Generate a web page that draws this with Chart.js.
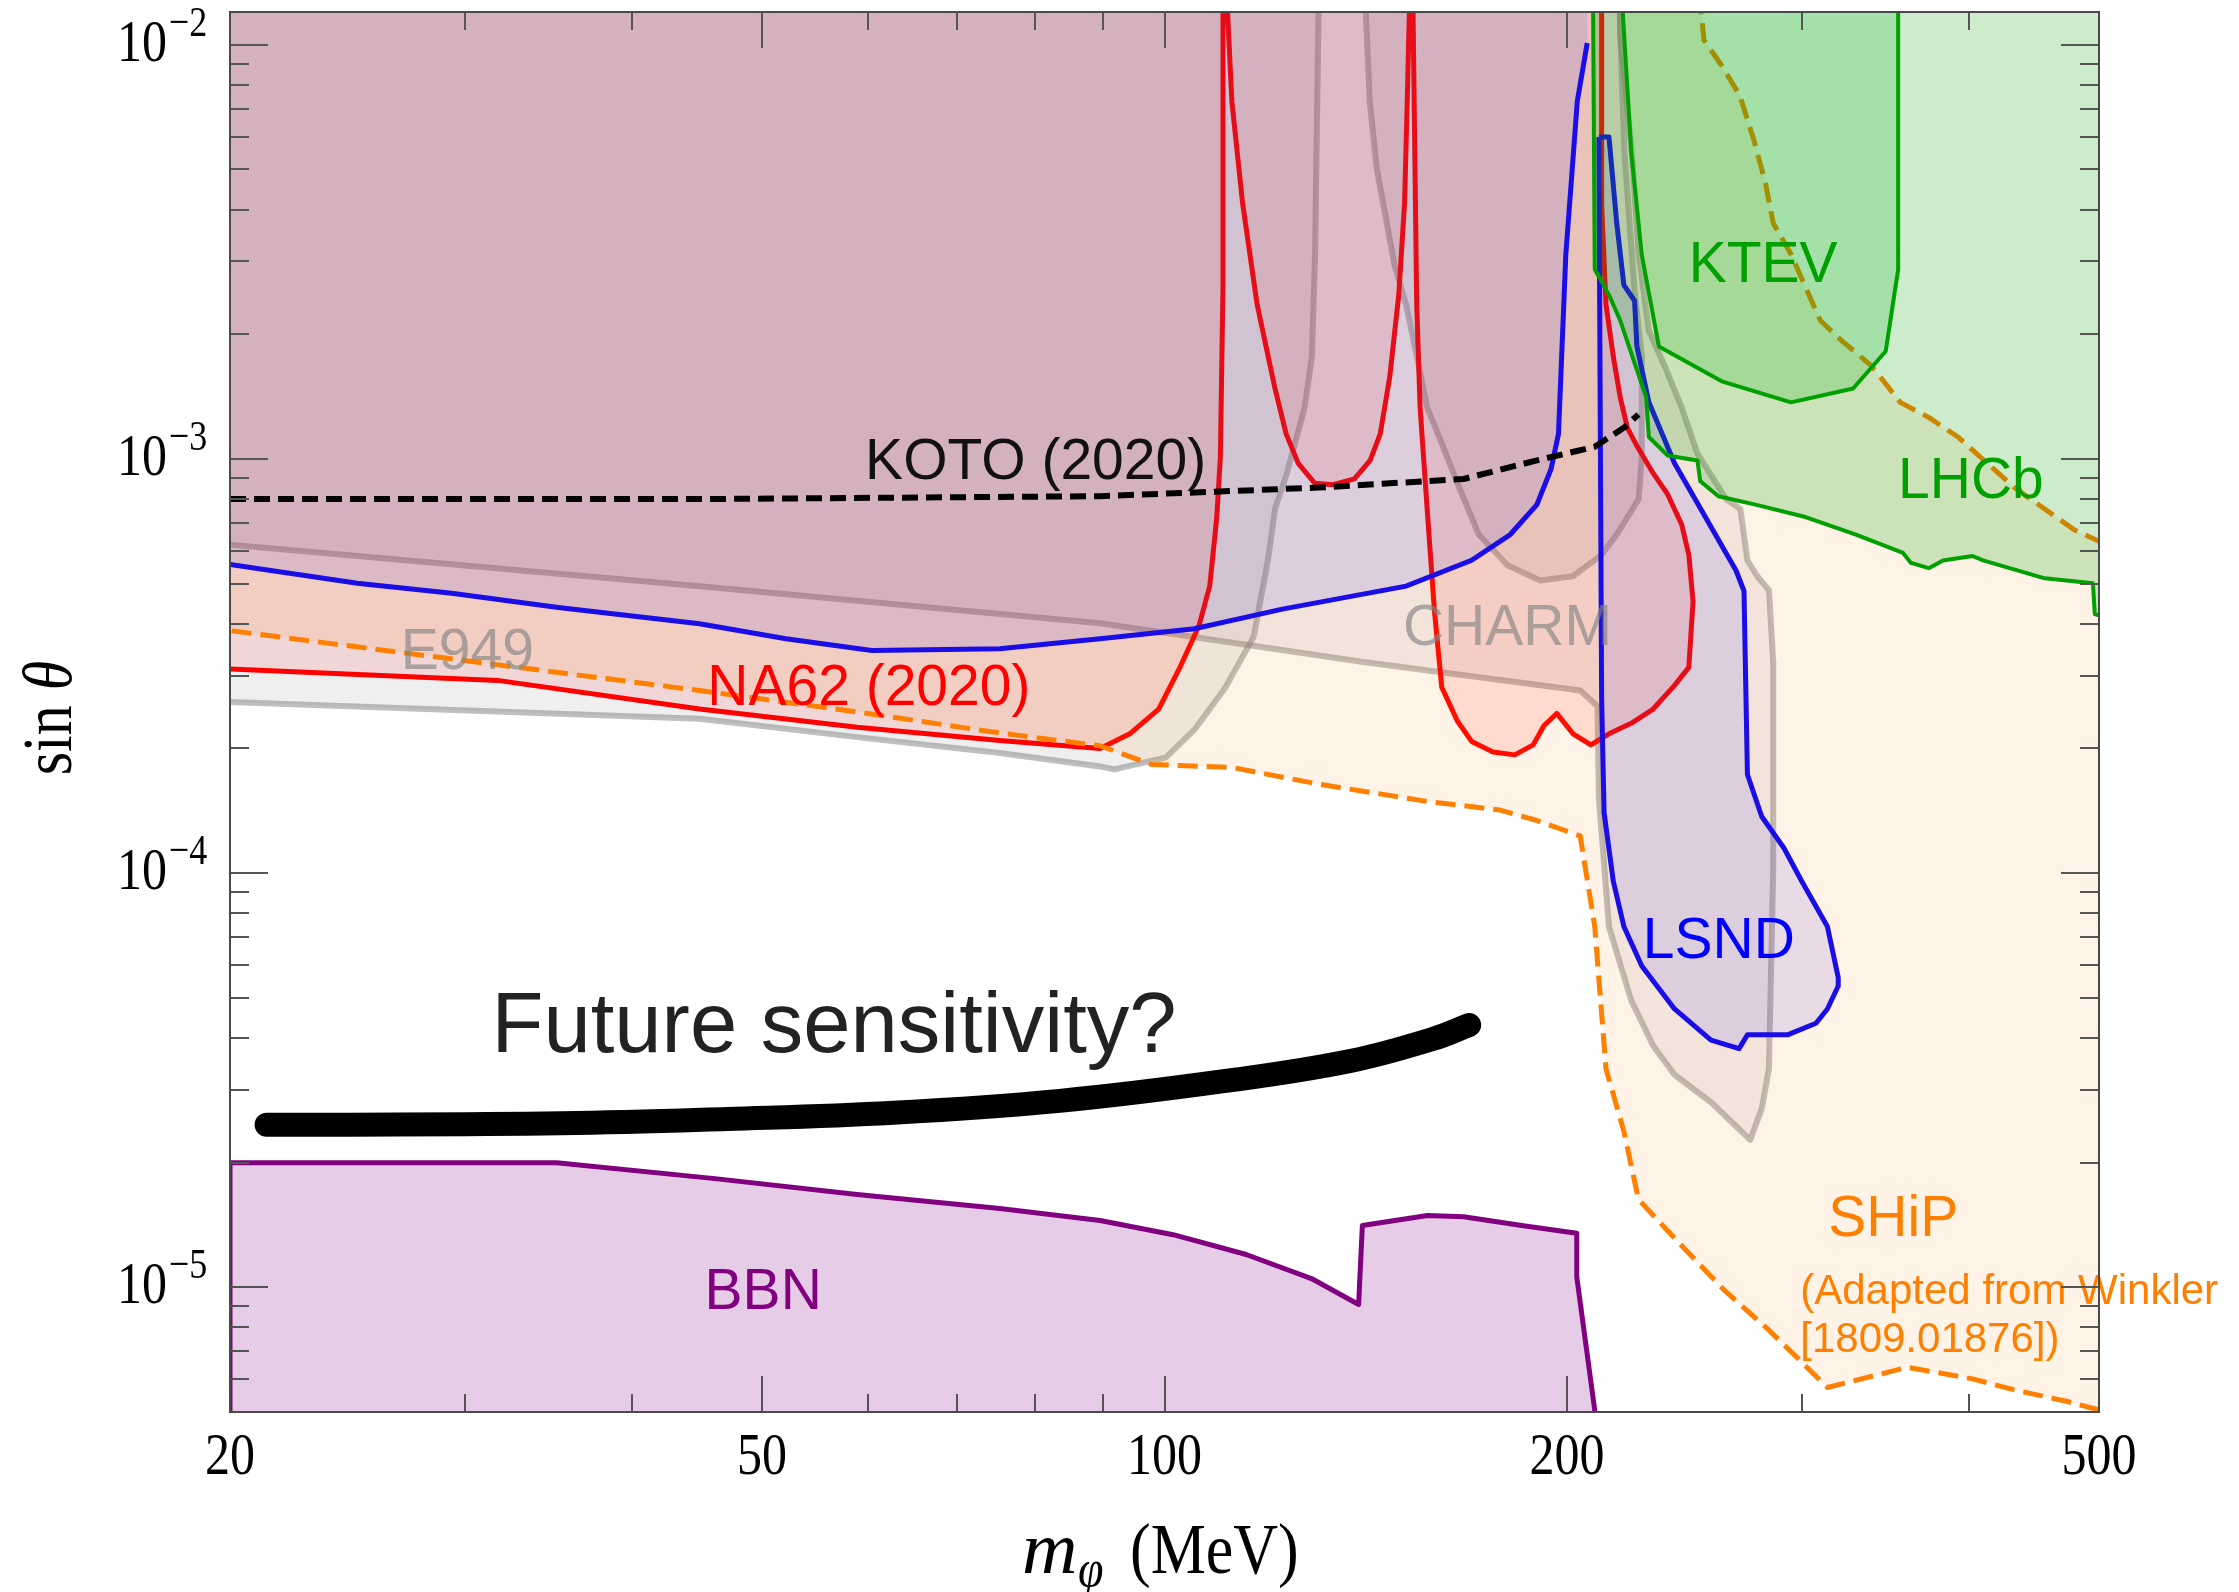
<!DOCTYPE html>
<html>
<head>
<meta charset="utf-8">
<script src="https://cdn.jsdelivr.net/npm/chart.js@4.4.1/dist/chart.umd.min.js"></script>
<style>
   html, body { margin: 0; padding: 0; background: #fff; }
   #wrap { width: 2239px; height: 1592px; }
</style>
</head>
<body>
<div id="wrap"><canvas id="chart" width="2239" height="1592"></canvas></div>
<script>

// axes
const massRange = [20, 500];
const sinRange = [5e-6, 0.012];
const massTicks = [20, 30, 40, 50, 60, 70, 80, 90, 100, 200, 300, 400, 500];
const massLabels = [20, 50, 100, 200, 500];
const sinDecades = [-5, -4, -3, -2];

// contours as [m (MeV), sin theta]; points above / beside the frame only close the fill
const e949 = [[15,0.05],[15,2.59e-4],
   [20,2.59e-4],[44.9,2.36e-4],[58.9,2.13e-4],[75.3,1.95e-4],[89.5,1.81e-4],[91.7,1.78e-4],[100.2,1.9e-4],
   [105.3,2.22e-4],[111,2.8e-4],[116.6,3.72e-4],[119.5,5.7e-4],[121,7.6e-4],[123.3,9.1e-4],[127.3,1.33e-3],
   [128.9,1.77e-3],[129.6,3.1e-3],[130.4,0.0122],[130.4,0.05],[141.4,0.05],[141.4,0.0122],[142.4,7.3e-3],
   [144.1,5.05e-3],[148.6,2.94e-3],[151.6,2.36e-3],[154.4,1.77e-3],[157.2,1.33e-3],[161.2,1.09e-3],[165.6,8.74e-4],
   [171.8,6.57e-4],[180.5,5.54e-4],[191,5.09e-4],[202.1,5.21e-4],[212.3,5.87e-4],[217.9,6.57e-4],[226.3,8.0e-4],
   [227.5,1.01e-3],[227.5,1.77e-3],[224.7,2.55e-3],[220.8,5.51e-3],[219.2,0.0109],[219,0.05]];

const charm = [[15,0.05],[15,6.21e-4],
   [20,6.21e-4],[44.9,4.93e-4],[89.5,4.01e-4],[140.4,3.24e-4],[204.6,2.76e-4],[210.8,2.53e-4],
   [211.3,1.51e-4],[215,7.43e-5],[223.4,4.93e-5],[232,3.83e-5],[240.7,3.26e-5],[256.6,2.79e-5],[274.2,2.27e-5],
   [279.7,2.7e-5],[283.2,3.37e-5],[285.3,1.02e-4],[285.3,3.24e-4],[283.2,4.82e-4],[277.6,5.21e-4],[272.9,5.69e-4],
   [269.6,7.57e-4],[263.1,8.0e-4],[250.4,1.03e-3],[243.7,1.33e-3],[236.6,1.68e-3],[230.3,2.04e-3],[226.3,3.11e-3],
   [223.6,5.51e-3],[219.2,0.0106],[217.6,0.05]];

const na62 = [[15,0.05],[15,3.11e-4],
   [20,3.11e-4],[31.7,2.92e-4],[44.9,2.49e-4],[58.9,2.25e-4],[75.3,2.09e-4],[89.5,2.0e-4],[94.2,2.17e-4],
   [99,2.49e-4],[102.7,3.14e-4],[106.1,3.95e-4],[108.1,4.93e-4],[109.4,7.17e-4],[110.1,1.01e-3],[110.6,2.63e-3],
   [110.6,0.05],[111.4,0.05],[111.4,0.0125],[112.3,7.31e-3],[114.4,4.14e-3],[117.3,2.36e-3],
   [120.9,1.49e-3],[123.3,1.15e-3],[125.9,9.76e-4],[129.5,8.74e-4],[133.7,8.67e-4],[138.7,8.95e-4],[142.5,9.92e-4],
   [145,1.15e-3],[147.4,1.58e-3],[149.7,2.49e-3],[151.2,4.14e-3],[151.9,7.31e-3],[152.5,0.0125],[152.5,0.05],
   [153.4,0.05],[153.4,0.0125],[154.4,2.36e-3],[155.3,1.33e-3],[157.2,7.57e-4],[159.2,4.28e-4],[161.2,2.81e-4],
   [165.6,2.33e-4],[169.7,2.08e-4],[176.1,1.96e-4],[182.8,1.93e-4],[188.7,2.04e-4],[192.2,2.27e-4],[196.5,2.43e-4],
   [202.1,2.17e-4],[208.4,2.04e-4],[215,2.17e-4],[223.4,2.3e-4],[232,2.49e-4],[240.7,2.84e-4],[246.7,3.14e-4],
   [248.5,4.53e-4],[246.7,5.87e-4],[243.7,6.94e-4],[237.8,8.23e-4],[232,9.24e-4],[225.8,1.07e-3],[221.9,1.19e-3],
   [219.2,1.41e-3],[216.6,1.77e-3],[213.9,2.36e-3],[212.3,4.14e-3],[212.3,0.05]];

// LSND below 2 m_mu: the curve stops at 1e-2, so the fill gets its own closing points
const lsndLow = [[20,5.56e-4],[24.9,5.01e-4],[29.3,4.74e-4],[35.2,4.38e-4],[44.9,4.0e-4],[52.1,3.68e-4],
   [60.4,3.45e-4],[75.3,3.48e-4],[89.5,3.68e-4],[105.3,3.89e-4],[122.5,4.34e-4],[151.6,4.93e-4],[169.7,5.69e-4],
   [181.4,6.57e-4],[189.9,7.76e-4],[194.6,9.46e-4],[197.1,1.15e-3],[199.6,3.11e-3],[203.6,7.31e-3],[207.1,0.0101]];
const lsndLowClose = [[207.1,0.05],[15,0.05],[15,5.56e-4]];

const lsndHigh = [[211.3,5.99e-3],[215,5.99e-3],[217.9,3.71e-3],[220.6,2.63e-3],[224.7,2.41e-3],[225.6,1.87e-3],
   [230.3,1.37e-3],[240.7,9.76e-4],[253.2,7.34e-4],[267.6,5.38e-4],[271.3,4.8e-4],[272.9,1.73e-4],[279.7,1.37e-4],
   [290.6,1.15e-4],[299.6,9.57e-5],[313.2,7.43e-5],[319.1,5.6e-5],[319.1,5.34e-5],[313.2,4.7e-5],[307.1,4.34e-5],
   [292.4,4.07e-5],[272.9,4.07e-5],[269,3.77e-5],[256.3,3.95e-5],[240.7,4.7e-5],[227.5,5.97e-5],[220.6,7.43e-5],
   [216.6,9.57e-5],[213.2,1.4e-4],[212.3,2.64e-4],[211.3,5.99e-3]];

const shipLow = [[15,0.05],[15,3.85e-4],
   [20,3.85e-4],[44.9,2.76e-4],[58.9,2.45e-4],[75.3,2.18e-4],[89.5,2.03e-4],[97.8,1.83e-4],
   [112.3,1.8e-4],[130.4,1.64e-4],[157.2,1.49e-4],[178.3,1.42e-4],[189.9,1.34e-4],[204.6,1.23e-4],[209.8,7.43e-5],
   [213.9,3.37e-5],[220.6,2.38e-5],[226.2,1.63e-5],[243.7,1.26e-5],[262.6,9.8e-6],[283.2,7.88e-6],[297.9,6.72e-6],
   [313.2,5.73e-6],[359.5,6.41e-6],[402.2,6.01e-6],[433.4,5.64e-6],[473.4,5.3e-6],[501,5.05e-6],
   [560,5.05e-6],[560,6.31e-4]];
const shipHigh = [[501,6.31e-4],[479,6.75e-4],[455.4,7.57e-4],[433.4,8.47e-4],[412.6,9.76e-4],[392.2,1.13e-3],
   [372.9,1.26e-3],[355.1,1.37e-3],[337.8,1.68e-3],[321,1.93e-3],[309.4,2.16e-3],[294.2,3.12e-3],[285.3,3.71e-3],
   [281.5,4.64e-3],[276.2,5.83e-3],[269.5,7.51e-3],[261.1,8.91e-3],[253.2,0.01027],[242,0.05]];

const lhcb = [[209.2,0.05],[209.2,0.0125],[209.8,2.87e-3],[215,2.49e-3],[219.2,2.16e-3],[229.2,1.41e-3],[230.3,1.13e-3],
   [237.8,1.02e-3],[250.4,9.92e-4],[251.6,8.84e-4],[259.6,8.13e-4],[276.2,7.77e-4],[301.6,7.24e-4],[329,6.57e-4],
   [356.8,5.93e-4],[361.7,5.61e-4],[372.9,5.45e-4],[382.2,5.69e-4],[402.2,5.83e-4],[409.5,5.69e-4],[455.4,5.15e-4],
   [494.8,5.01e-4],[496.4,4.22e-4],[501,4.18e-4],[600,4.18e-4],[600,0.05]];

const ktev = [[220,0.05],[220,0.0125],[223.4,5.51e-3],[227.5,3.11e-3],[234.3,1.87e-3],[261.1,1.54e-3],[294.2,1.37e-3],
   [327.4,1.48e-3],[346.3,1.82e-3],[353.8,2.87e-3],[353.8,0.05]];

const bbn = [[20,4e-6],[20,2.0e-5],[35.1,2.0e-5],[46.1,1.83e-5],[58.9,1.675e-5],[75.3,1.55e-5],[89.5,1.45e-5],
   [101.5,1.34e-5],[115.1,1.2e-5],[128.8,1.05e-5],[139.7,9.09e-6],[140.6,1.41e-5],[157.3,1.49e-5],[167.4,1.48e-5],
   [185,1.41e-5],[203.4,1.35e-5],[203.4,1.06e-5],[209.8,5.05e-6],[210.2,4e-6]];

const koto = [[20,8.0e-4],[44.9,8.0e-4],[89.5,8.13e-4],[130.4,8.53e-4],[167.4,8.95e-4],[189.9,9.92e-4],
   [209.8,1.07e-3],[220.6,1.19e-3],[226.2,1.28e-3]];

const future = [[21.3,2.47e-5],[23.1,2.47e-5],[35.4,2.49e-5],[47.1,2.55e-5],[62.7,2.64e-5],[83.5,2.82e-5],
   [111.1,3.15e-5],[137.7,3.52e-5],[158.8,3.98e-5],[169,4.3e-5]];

// text labels, anchored in data coordinates
const notes = [
   {text: 'KOTO (2020)', m: 80.1, s: 1.0e-3, color: '#111'},
   {text: 'NA62 (2020)', m: 60.1, s: 2.85e-4, color: '#ff0000'},
   {text: 'E949', m: 30.1, s: 3.48e-4, color: 'rgba(130,130,130,0.65)'},
   {text: 'CHARM', m: 180.5, s: 3.98e-4, color: 'rgba(130,130,130,0.65)'},
   {text: 'KTEV', m: 280.4, s: 2.99e-3, color: '#00a000'},
   {text: 'LHCb', m: 401, s: 9.0e-4, color: '#00a000'},
   {text: 'LSND', m: 259.8, s: 7.0e-5, color: '#0000ff'},
   {text: 'SHiP', m: 350.8, s: 1.49e-5, color: '#ff8000'},
   {text: '(Adapted from Winkler', m: 298.9, s: 9.92e-6, color: '#ff8000', size: 42, align: 'left'},
   {text: '[1809.01876])', m: 298.9, s: 7.57e-6, color: '#ff8000', size: 42, align: 'left'},
   {text: 'BBN', m: 50.1, s: 9.92e-6, color: '#800080'},
   {text: 'Future sensitivity?', m: 56.6, s: 4.38e-5, color: '#222', size: 85}
];

const pts = arr => arr.map(([x, y]) => ({x, y}));

const region = (label, points, opts) => Object.assign({
   label,
   data: pts(points),
   fill: 'shape',
   pointRadius: 0,
   borderJoinStyle: 'round'
}, opts);

const grayLine = 'rgba(128,128,128,0.5)';
const lsndFill = 'rgba(0,0,255,0.1)';

const datasets = [
   region('E949', e949, {backgroundColor: 'rgba(110,110,110,0.11)', borderColor: grayLine, borderWidth: 6, order: 10}),
   region('CHARM', charm, {backgroundColor: 'rgba(125,118,145,0.11)', borderColor: grayLine, borderWidth: 6, order: 9}),
   region('NA62', na62, {backgroundColor: 'rgba(255,0,0,0.1)', borderColor: '#ff0000', borderWidth: 5, order: 8}),
   region('LSND fill', lsndLow.concat(lsndLowClose), {backgroundColor: lsndFill, borderWidth: 0, order: 7}),
   {label: 'LSND', data: pts(lsndLow), fill: false, pointRadius: 0, borderColor: '#0000ff', borderWidth: 5, order: 7},
   region('LSND2', lsndHigh, {backgroundColor: lsndFill, borderColor: '#0000ff', borderWidth: 5, order: 7}),
   region('SHiP', shipLow.concat(shipHigh), {backgroundColor: 'rgba(255,127,14,0.1)', borderColor: '#ff8000', borderWidth: 5, borderDash: [20, 9], order: 6}),
   region('BBN', bbn, {backgroundColor: 'rgba(128,0,128,0.2)', borderColor: '#800080', borderWidth: 5, order: 5}),
   region('LHCb', lhcb, {backgroundColor: 'rgba(0,160,0,0.2)', borderColor: '#00a000', borderWidth: 4, order: 4}),
   region('KTEV', ktev, {backgroundColor: 'rgba(0,180,20,0.2)', borderColor: '#00a000', borderWidth: 4, order: 3}),
   {label: 'KOTO', data: pts(koto), fill: false, pointRadius: 0, borderColor: '#000', borderWidth: 6, borderDash: [16, 8], order: 2},
   {label: 'Future', data: pts(future), fill: false, pointRadius: 0, borderColor: '#000', borderWidth: 24,
    tension: 0.4, borderCapStyle: 'round', borderJoinStyle: 'round', order: 1}
];

// draw text with a stretch
const stretchText = (ctx, text, px, py, font, align, sy, sx = 1) => {
   ctx.save();
   ctx.translate(px, py);
   ctx.scale(sx, sy);
   ctx.font = font;
   ctx.textAlign = align;
   ctx.textBaseline = 'alphabetic';
   ctx.fillText(text, 0, 0);
   ctx.restore();
};

const decor = {
   id: 'decor',
   afterDraw(chart) {
      const {ctx, chartArea: a, scales: {x, y}} = chart;
      ctx.save();

      // labels on the plot
      notes.forEach(t => {
         const size = t.size || 57;
         ctx.font = size + 'px "Liberation Sans", Arial, sans-serif';
         ctx.fillStyle = t.color;
         ctx.textAlign = t.align || 'center';
         ctx.textBaseline = 'alphabetic';
         ctx.fillText(t.text, x.getPixelForValue(t.m), y.getPixelForValue(t.s) + 0.358 * size);
      });

      // inward ticks
      ctx.strokeStyle = '#555';
      ctx.lineWidth = 2;
      const seg = (x1, y1, x2, y2) => { ctx.beginPath(); ctx.moveTo(x1, y1); ctx.lineTo(x2, y2); ctx.stroke(); };
      massTicks.forEach(m => {
         const px = Math.round(x.getPixelForValue(m));
         const len = massLabels.includes(m) ? 36 : 18;
         seg(px, a.bottom, px, a.bottom - len);
         seg(px, a.top, px, a.top + len);
      });
      for (let d = -6; d <= -2; d++) {
         for (let k = 1; k <= 9; k++) {
            const v = k * Math.pow(10, d);
            if (v < sinRange[0] || v > sinRange[1]) continue;
            const py = Math.round(y.getPixelForValue(v));
            const len = k === 1 ? 38 : 19;
            seg(a.left, py, a.left + len, py);
            seg(a.right, py, a.right - len, py);
         }
      }
      ctx.strokeStyle = '#4a4a4a';
      ctx.strokeRect(a.left, a.top, a.right - a.left, a.bottom - a.top);

      // tick labels
      ctx.fillStyle = '#000';
      massLabels.forEach(m => {
         stretchText(ctx, String(m), x.getPixelForValue(m), a.bottom + 62, '50px "Liberation Serif", serif', 'center', 1.2);
      });
      sinDecades.forEach(k => {
         const py = y.getPixelForValue(Math.pow(10, k));
         stretchText(ctx, '10', a.left - 63, py + 16, '50px "Liberation Serif", serif', 'right', 1.2);
         stretchText(ctx, '\u2212' + Math.abs(k), a.left - 61, py - 9, '36px "Liberation Serif", serif', 'left', 1.2);
      });

      // axis titles
      stretchText(ctx, 'm', 1022, 1573, 'italic 64px "Liberation Serif", serif', 'left', 1.16, 1.2);
      stretchText(ctx, '\u03c6', 1078, 1586, 'italic 46px "Liberation Serif", serif', 'left', 1.16);
      stretchText(ctx, '(MeV)', 1130, 1573, '62px "Liberation Serif", serif', 'left', 1.16);

      ctx.save();
      ctx.translate(71, 718);
      ctx.rotate(-Math.PI / 2);
      ctx.scale(1, 1.16);
      ctx.textBaseline = 'alphabetic';
      ctx.textAlign = 'left';
      ctx.font = '60px "Liberation Serif", serif';
      const w1 = ctx.measureText('sin ').width;
      ctx.font = 'italic 60px "Liberation Serif", serif';
      const w2 = ctx.measureText('\u03b8').width;
      ctx.font = '60px "Liberation Serif", serif';
      ctx.fillText('sin ', -(w1 + w2) / 2, 0);
      ctx.font = 'italic 60px "Liberation Serif", serif';
      ctx.fillText('\u03b8', -(w1 + w2) / 2 + w1, 0);
      ctx.restore();

      ctx.restore();
   }
};

const chart = new Chart(document.getElementById('chart').getContext('2d'), {
   type: 'line',
   data: { datasets },
   options: {
      responsive: false,
      animation: false,
      devicePixelRatio: 1,
      events: [],
      layout: { padding: { top: 12, right: 140, left: 0, bottom: 0 } },
      elements: { line: { tension: 0 }, point: { radius: 0 } },
      plugins: { legend: { display: false }, tooltip: { enabled: false } },
      scales: {
         x: {
            type: 'logarithmic', min: massRange[0], max: massRange[1],
            ticks: { display: false }, grid: { display: false }, border: { display: false },
            afterFit: s => { s.height = 180; }
         },
         y: {
            type: 'logarithmic', min: sinRange[0], max: sinRange[1],
            ticks: { display: false }, grid: { display: false }, border: { display: false },
            afterFit: s => { s.width = 230; }
         }
      }
   },
   plugins: [decor]
});

</script>
</body>
</html>
